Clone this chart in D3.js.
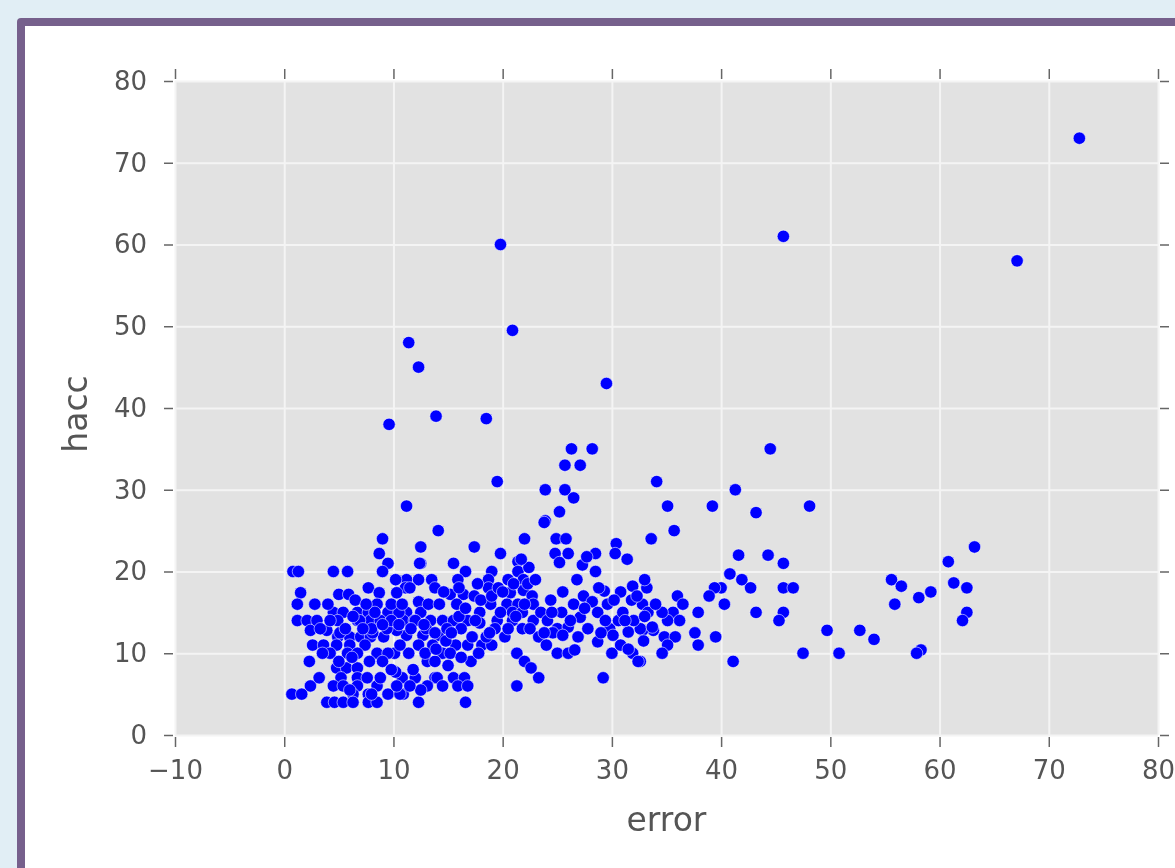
<!DOCTYPE html>
<html>
<head>
<meta charset="utf-8">
<script src="https://d3js.org/d3.v7.min.js"></script>
<style>
  html,body{margin:0;padding:0;background:#e1eef5;overflow:hidden;}
  svg{display:block;}
  .tick text{font-family:"DejaVu Sans",sans-serif;fill:#555;}
</style>
</head>
<body>
<script>
// error (x) and hacc (y), point by point
const errorVals=[
  72.8,67.1,45.7,19.8,20.9,11.4,12.3,29.5,13.9,9.6,18.5,19.5,44.5,34.1,41.3,35.1,39.2,48.1,43.2,35.7,14.1,11.2,
  26.3,28.2,25.7,27.1,23.9,25.7,26.5,25.2,23.9,
  33.6,41.6,44.3,45.7,40.8,41.9,42.7,45.7,46.6,40.0,39.4,38.9,40.3,43.2,45.7,45.3,37.9,37.6,37.9,39.5,47.5,50.8,49.7,52.7,54.0,41.1,55.6,55.9,
  36.0,36.5,35.6,36.2,35.1,33.8,34.8,35.8,35.1,34.6,32.8,32.6,34.6,33.2,33.0,32.8,
  63.2,60.8,56.5,59.2,58.1,61.3,62.5,62.5,62.1,58.3,57.9,
  12.5,17.4,19.8,22.0,23.8,24.9,25.8,24.8,26.0,25.2,28.5,30.4,30.3,31.4,
  12.5,15.5,16.6,19.0,21.4,21.4,27.3,28.5,27.7,
  11.2,12.3,13.5,15.9,18.7,20.5,21.9,26.8,29.3,31.9,
  11.1,13.8,18.7,15.2,16.4,17.4,15.8,12.3,20.7,21.9,22.7,20.4,21.4,22.8,24.4,27.4,28.2,28.7,25.4,27.1,17.9,
  11.2,12.5,10.9,11.9,13.4,14.5,15.5,16.8,17.9,19.5,20.9,21.8,22.8,25.0,26.0,24.6,25.5,29.8,30.6,30.1,31.5,32.6,33.7,23.3,28.7,
  11.2,12.7,14.1,15.7,16.8,18.1,19.0,12.3,13.6,14.5,11.4,25.0,26.0,26.6,30.0,31.9,32.4,21.3,22.0,22.6,23.3,21.3,29.2,
  13.1,13.8,17.1,10.8,12.0,13.8,15.5,16.5,13.1,15.9,16.8,10.9,12.3,16.6,
  0.8,1.3,4.5,5.8,9.0,8.7,9.5,9.0,1.5,1.2,2.8,7.7,5.0,5.9,8.7,10.2,10.3,
  1.2,2.1,2.4,4.5,5.4,6.7,7.7,9.5,10.5,3.9,4.9,6.7,7.9,8.8,10.3,
  4.9,6.0,7.0,7.9,9.1,2.6,3.6,4.8,6.0,7.4,8.5,10.1,4.2,5.8,6.7,
  2.3,4.8,5.7,6.7,5.2,6.7,7.6,10.2,2.4,4.5,5.4,6.7,8.5,9.5,10.6,0.7,1.6,6.3,7.7,
  3.9,4.6,5.4,6.3,7.7,8.5,
  12.4,11.5,8.5,6.9,12.0,5.1,8.1,9.4,10.6,9.5,14.0,10.3,
  18.5,19.3,20.2,20.9,21.8,22.5,19.8,18.9,17.2,16.2,14.9,13.0,23.5,24.1,27.8,26.9,29.4,31.0,32.0,33.3,34.0,33.0,31.8,30.8,32.3,3.0,8.0,9.8,
  3.3,4.2,5.6,6.3,7.2,8.3,9.0,9.8,10.8,4.0,6.5,7.5,3.5,5.0,6.2,7.8,9.0,9.8,8.8,3.2,6.0,8.0,
  10.5,11.6,12.8,13.8,14.8,15.3,16.0,16.6,17.5,18.0,19.0,13.2,14.2,14.6,16.0,17.7,19.6,12.9,13.9,15.2,16.2,17.8,18.8,11.8,15.0,12.5,14.5,11.5,
  20.5,21.2,22.0,22.3,21.0,20.0,23.0,22.4,21.7,23.8,24.5,26.5,25.5,26.2,27.5,28.8,29.6,30.2,31.2,24.0,29.0,30.8,31.5,32.9
];
const haccVals=[
  73,58,61,60,49.5,48,45,43,39,38,38.7,31,35,31,30,28,28,28,27.2,25,25,28,
  35,35,33,33,30,30,29,27.3,26.2,
  24,22,22,21,19.7,19,18,18,18,18,18,17,16,15,15,14,15,12.5,11,12,10,10,12.8,12.8,11.7,9,19,16,
  17,16,15,14,14,12.8,12,12,11,10,12.8,9,15,18,19,16,
  23,21.2,18.2,17.5,16.8,18.6,18,15,14,10.4,10,
  23,23,22.2,24,26,24,24,22.2,22.2,21.1,22.2,23.4,22.2,21.5,
  21,21,20,20,21.2,20,20.8,20,21.8,
  19,19,19,19,19,19,19,19,17.6,18.2,
  18,18,18,17.2,17.2,17,16,16.3,17.4,17.7,17,16,16,16,16.5,17,16.3,15,15,14.4,15,
  15,15,14,14,14,14,14,14,13.7,14,14,13,14,13,13.2,12.5,12.2,13,14,12.2,12.6,13,13.2,12,11.4,
  12.2,12.2,12.2,11,11,11,11,11,11,10,10,10,10,10.4,10,10,9,10,9,8.2,7,6,7,
  9,9,9,7,7,7,7,7,6,6,6,5,4,4,
  20,20,20,20,24,22.2,21,20,17.4,16,16,18,17.2,17.2,17.4,19,17.4,
  14,14,12.8,15,15,15,15,15,15,12.8,14,14,14,14,12.8,
  12,12,12,12,12,11,11,11,11,11,10,10,10,10,10,
  9,8.2,8.2,8.2,7,7,7,7.7,6,6,6,6,6,5,5,5,5,5,5,
  4,4,4,4,4,4,
  21,18,16,14,14,12.5,12.5,13,11,10,7,6,
  12,13,12,15,15,13,15,16,12,13,13,13,15,14,13,12,14,15,14,15,16,14.5,16.5,17.5,17,14,13,14,
  13,14,13,14.5,13,15,13.5,16,16,16,16.5,16,10,9,9.5,9,9,8,7,7,5.5,5,
  13.5,13,13.5,12.5,11.5,12.5,14.5,15.5,14,16.5,17,16,16,17.5,18,18.5,18,10,10.5,10,9.5,10,12.5,8,8.5,5.5,6,6,
  13,14.5,16,18.5,18.5,17.5,19,20.5,21.5,12.5,15,16,17.5,14,15.5,18,16,16.5,14,11,12.5,11,10.5,11.5
];
const xTicks=[-10,0,10,20,30,40,50,60,70,80];
const yTicks=[0,10,20,30,40,50,60,70,80];

const W=1175, H=868;
const plot={left:175, right:1158, top:81, bottom:735};

const points=errorVals.map((e,i)=>({error:e,hacc:haccVals[i]}));

const svg=d3.select("body").append("svg").attr("width",W).attr("height",H);

// page frame
svg.append("rect").attr("width",W).attr("height",H).attr("fill","#e1eef5");
svg.append("rect").attr("x",17).attr("y",18).attr("width",1200).attr("height",900)
  .attr("rx",4).attr("fill","#76608c");
svg.append("rect").attr("x",25).attr("y",26).attr("width",1200).attr("height",900)
  .attr("fill","#fff");

const defs=svg.append("defs");
defs.append("filter").attr("id","soft")
  .append("feGaussianBlur").attr("stdDeviation",0.6);

const chart=svg.append("g").attr("filter","url(#soft)");

const xScale=d3.scaleLinear().domain([-10,80]).range([plot.left,plot.right]);
const yScale=d3.scaleLinear().domain([0,80]).range([plot.bottom,plot.top]);

chart.append("rect")
  .attr("x",plot.left).attr("y",plot.top)
  .attr("width",plot.right-plot.left).attr("height",plot.bottom-plot.top)
  .attr("fill","#e2e2e2");

// grid
const gx=chart.append("g").attr("transform",`translate(0,${plot.bottom})`)
  .call(d3.axisBottom(xScale).tickValues(xTicks).tickSize(-(plot.bottom-plot.top)).tickFormat(""));
const gy=chart.append("g").attr("transform",`translate(${plot.left},0)`)
  .call(d3.axisLeft(yScale).tickValues(yTicks).tickSize(-(plot.right-plot.left)).tickFormat(""));
[gx,gy].forEach(g=>{
  g.select(".domain").remove();
  g.selectAll("line").attr("stroke","#f4f4f4").attr("stroke-width",2);
});

// outward ticks on all four sides
const bottomAxis=chart.append("g").attr("transform",`translate(0,${plot.bottom+2})`)
  .call(d3.axisBottom(xScale).tickValues(xTicks).tickSize(10).tickPadding(14));
const topAxis=chart.append("g").attr("transform",`translate(0,${plot.top-2})`)
  .call(d3.axisTop(xScale).tickValues(xTicks).tickSize(10).tickFormat(""));
const leftAxis=chart.append("g").attr("transform",`translate(${plot.left-2},0)`)
  .call(d3.axisLeft(yScale).tickValues(yTicks).tickSize(9).tickPadding(17));
const rightAxis=chart.append("g").attr("transform",`translate(${plot.right+2},0)`)
  .call(d3.axisRight(yScale).tickValues(yTicks).tickSize(9).tickFormat(""));
[bottomAxis,topAxis,leftAxis,rightAxis].forEach(g=>{
  g.select(".domain").remove();
  g.selectAll("line").attr("stroke","#666").attr("stroke-width",1.5);
  g.selectAll("text").style("font-size","26px");
});

// points
chart.append("g").selectAll("circle")
  .data(points)
  .enter()
  .append("circle")
  .attr("cx",d=>xScale(d.error))
  .attr("cy",d=>yScale(d.hacc))
  .attr("r",6.2)
  .attr("fill","#0000ff")
  .attr("stroke","#ffffff")
  .attr("stroke-opacity",0.7)
  .attr("stroke-width",0.8);

// axis titles
chart.append("text")
  .text("error")
  .attr("x",(plot.left+plot.right)/2)
  .attr("y",831)
  .attr("text-anchor","middle")
  .style("font-family","DejaVu Sans, sans-serif")
  .style("font-size","33px")
  .attr("fill","#555");
chart.append("text")
  .text("hacc")
  .attr("transform",`translate(87,${(plot.top+plot.bottom)/2+6}) rotate(-90)`)
  .attr("text-anchor","middle")
  .style("font-family","DejaVu Sans, sans-serif")
  .style("font-size","33px")
  .attr("fill","#555");
</script>
</body>
</html>
